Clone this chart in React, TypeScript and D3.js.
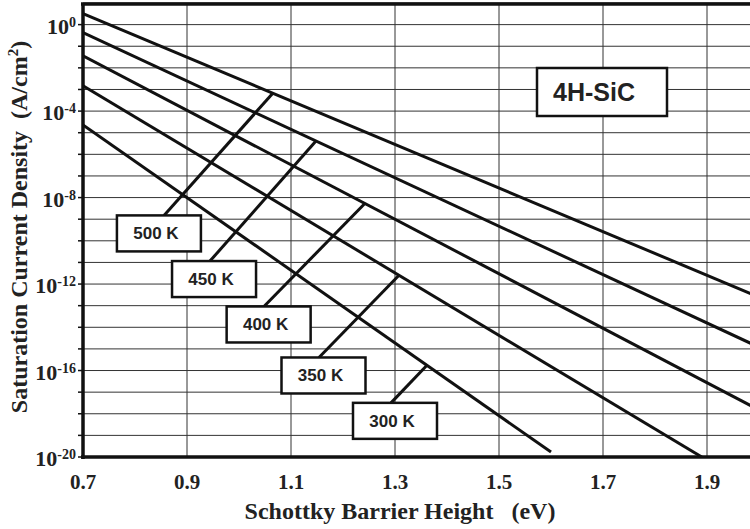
import { useEffect, useRef } from 'react';
import * as d3 from 'd3';

// temperatures of the five curves (K)
const temperatures = [500, 450, 400, 350, 300];
// each curve is straight on the log scale: start and end points
const startBarrier = [0.7, 0.7, 0.7, 0.7, 0.7];
const startDensity = [3.2, 0.43, 0.036, 1.5e-3, 2.3e-5];
const endBarrier = [2.0, 2.0, 2.0, 1.89, 1.6];
const endDensity = [2.5e-13, 1.2e-15, 1.5e-18, 1e-20, 1.7e-20];

// label boxes (centre, data coords) and leader lines to the curves
const labelBarrier = [0.846, 0.952, 1.057, 1.1625, 1.3];
const labelDensity = [2.2e-10, 1.7e-12, 1.35e-14, 5.9e-17, 4.7e-19];
const leaderFromBarrier = [0.8558, 0.9442, 1.048, 1.1538, 1.2923];
const leaderToBarrier = [1.065, 1.148, 1.242, 1.3077, 1.3615];

const xTicks = [0.7, 0.9, 1.1, 1.3, 1.5, 1.7, 1.9];
const yDecades = d3.range(-20, 2);
const yLabelExps = [0, -4, -8, -12, -16, -20];

const materialLabel = '4H-SiC';

const App = () => {
  const svgRef = useRef<SVGSVGElement>(null);

  useEffect(() => {
    if (!svgRef.current) return;
    const svg = d3.select(svgRef.current);
    svg.selectAll('*').remove();

    const width = 750;
    const height = 529;
    const left = 83;
    const top = 3;
    const bottom = 457;

    const x = d3.scaleLinear().domain([0.7, 2.0]).range([left, left + 1.3 * 520]);
    const y = d3.scaleLog().domain([1e-20, 1e1]).range([bottom, top]);

    svg.attr('width', width).attr('height', height);

    const serif = '"Liberation Serif", "Times New Roman", serif';
    const sans = '"Liberation Sans", Arial, sans-serif';

    svg.append('defs').append('clipPath').attr('id', 'plot-clip')
      .append('rect')
      .attr('x', left).attr('y', top)
      .attr('width', x(2.0) - left).attr('height', bottom - top);

    // grid
    const grid = svg.append('g');
    grid.selectAll('line.h')
      .data(yDecades)
      .join('line')
      .attr('x1', left).attr('x2', x(2.0))
      .attr('y1', d => y(Math.pow(10, d)))
      .attr('y2', d => y(Math.pow(10, d)))
      .attr('stroke', '#333').attr('stroke-width', 1);
    grid.selectAll('line.v')
      .data(xTicks.slice(1))
      .join('line')
      .attr('x1', d => x(d)).attr('x2', d => x(d))
      .attr('y1', top).attr('y2', bottom)
      .attr('stroke', '#333').attr('stroke-width', 1);

    // curves
    const line = d3.line<[number, number]>().x(d => x(d[0])).y(d => y(d[1]));
    svg.append('g').attr('clip-path', 'url(#plot-clip)')
      .selectAll('path')
      .data(temperatures.map((_, i) => [
        [startBarrier[i], startDensity[i]],
        [endBarrier[i], endDensity[i]],
      ] as [number, number][]))
      .join('path')
      .attr('d', d => line(d))
      .attr('fill', 'none')
      .attr('stroke', '#111')
      .attr('stroke-width', 3);

    // density on a curve at a given barrier (log-linear between its endpoints)
    const densityAt = (i: number, b: number) => {
      const t = (b - startBarrier[i]) / (endBarrier[i] - startBarrier[i]);
      const l0 = Math.log10(startDensity[i]);
      const l1 = Math.log10(endDensity[i]);
      return Math.pow(10, l0 + t * (l1 - l0));
    };

    // labels with leaders
    const boxW = 84;
    const boxH = 36;
    const labels = svg.append('g');
    temperatures.forEach((t, i) => {
      const cx = x(labelBarrier[i]);
      const cy = y(labelDensity[i]);
      labels.append('line')
        .attr('x1', x(leaderFromBarrier[i]))
        .attr('y1', cy - boxH / 2)
        .attr('x2', x(leaderToBarrier[i]))
        .attr('y2', y(densityAt(i, leaderToBarrier[i])))
        .attr('stroke', '#111')
        .attr('stroke-width', 3);
      labels.append('rect')
        .attr('x', cx - boxW / 2).attr('y', cy - boxH / 2)
        .attr('width', boxW).attr('height', boxH)
        .attr('fill', '#fff')
        .attr('stroke', '#111')
        .attr('stroke-width', 2.5);
      labels.append('text')
        .attr('x', cx - 3).attr('y', cy + 6)
        .attr('text-anchor', 'middle')
        .attr('font-family', sans)
        .attr('font-weight', 'bold')
        .attr('font-size', '17px')
        .attr('fill', '#222')
        .text(`${t} K`);
    });

    // material box
    svg.append('rect')
      .attr('x', 537).attr('y', 68)
      .attr('width', 130).attr('height', 48)
      .attr('fill', '#fff')
      .attr('stroke', '#111')
      .attr('stroke-width', 2.5);
    svg.append('text')
      .attr('x', 594).attr('y', 101)
      .attr('text-anchor', 'middle')
      .attr('font-family', sans)
      .attr('font-weight', 'bold')
      .attr('font-size', '25px')
      .attr('fill', '#222')
      .text(materialLabel);

    // frame
    const frame = svg.append('g').attr('stroke', '#111').attr('stroke-width', 3.5);
    frame.append('line').attr('x1', left - 2).attr('x2', width).attr('y1', top + 1).attr('y2', top + 1);
    frame.append('line').attr('x1', left).attr('x2', left).attr('y1', top).attr('y2', bottom + 2);
    frame.append('line').attr('x1', left - 2).attr('x2', width).attr('y1', bottom).attr('y2', bottom);

    // y ticks
    svg.append('g').selectAll('line')
      .data(yDecades.filter(d => d <= 0))
      .join('line')
      .attr('x1', left - 5).attr('x2', left)
      .attr('y1', d => y(Math.pow(10, d)))
      .attr('y2', d => y(Math.pow(10, d)))
      .attr('stroke', '#111').attr('stroke-width', 1.5);

    const yl = svg.append('g')
      .attr('font-family', serif)
      .attr('font-weight', 'bold')
      .attr('fill', '#222');
    yLabelExps.forEach(e => {
      const t = yl.append('text')
        .attr('x', 76)
        .attr('y', y(Math.pow(10, e)) + 9)
        .attr('text-anchor', 'end');
      t.append('tspan').attr('font-size', '22px').text('10');
      t.append('tspan').attr('font-size', '14px').attr('dy', -7).text(String(e));
    });

    // x tick labels
    svg.append('g').selectAll('text')
      .data(xTicks)
      .join('text')
      .attr('x', d => x(d))
      .attr('y', 489)
      .attr('text-anchor', 'middle')
      .attr('font-family', serif)
      .attr('font-weight', 'bold')
      .attr('font-size', '21px')
      .attr('fill', '#222')
      .text(d => d.toFixed(1));

    // axis titles
    svg.append('text')
      .attr('x', 400).attr('y', 519)
      .attr('text-anchor', 'middle')
      .attr('font-family', serif)
      .attr('font-weight', 'bold')
      .attr('font-size', '24px')
      .attr('fill', '#222')
      .attr('xml:space', 'preserve')
      .text('Schottky Barrier Height   (eV)');

    const yt = svg.append('text')
      .attr('transform', 'translate(27,227) rotate(-90)')
      .attr('text-anchor', 'middle')
      .attr('font-family', serif)
      .attr('font-weight', 'bold')
      .attr('font-size', '24px')
      .attr('fill', '#222')
      .attr('xml:space', 'preserve');
    yt.append('tspan').text('Saturation Current Density  (A/cm');
    yt.append('tspan').attr('font-size', '15px').attr('dy', -9).text('2');
    yt.append('tspan').attr('dy', 9).text(')');
  }, []);

  return <svg ref={svgRef} style={{ position: 'absolute', left: 0, top: 0, background: '#fff' }} />;
};

export default App;
